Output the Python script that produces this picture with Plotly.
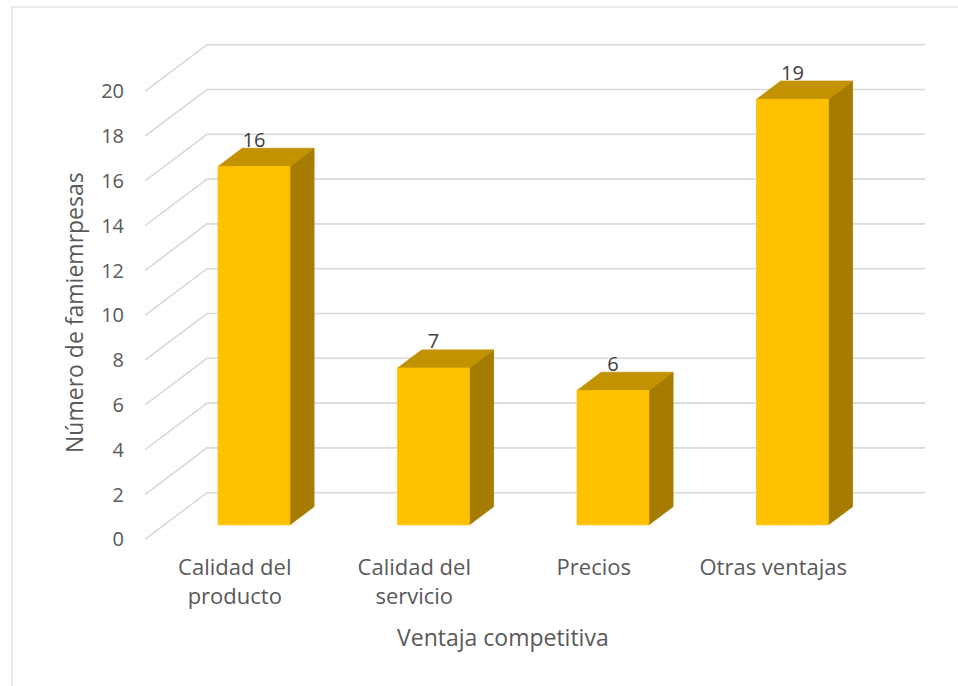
import plotly.graph_objects as go

# Data
categories = ["Calidad del<br>producto", "Calidad del<br>servicio", "Precios", "Otras ventajas"]
values = [16, 7, 6, 19]
y_ticks = [0, 2, 4, 6, 8, 10, 12, 14, 16, 18, 20]
y_tick_labels = [str(t) for t in y_ticks]

# Oblique projection of the depth axis (in axis units)
DX = 62 / 179.5      # horizontal shift of the back wall, in category units
DY = 46.6 / 22.4     # vertical shift of the back wall, in value units
D0, D1 = 0.31, 0.70  # depth span of the bar boxes
HALF_W = 0.2         # half bar width, in category units

FRONT = "#FFC000"
TOP = "#C29200"
SIDE = "#A57C00"
GRID = "#D9D9D9"
FONT = "Open Sans"

fig = go.Figure()

# Wall gridlines: diagonal on the side, horizontal along the back wall
gx, gy = [], []
for t in y_ticks:
    gx += [0, DX, len(categories) + DX, None]
    gy += [t, t + DY, t + DY, None]
fig.add_trace(go.Scatter(x=gx, y=gy, mode="lines",
                         line=dict(color=GRID, width=1.6),
                         hoverinfo="skip", showlegend=False))

def poly(xs, ys, color):
    fig.add_trace(go.Scatter(x=xs + [xs[0]], y=ys + [ys[0]], mode="lines",
                             fill="toself", fillcolor=color,
                             line=dict(color=color, width=0.8),
                             hoverinfo="skip", showlegend=False))

for i, v in enumerate(values):
    c = i + 0.5
    xl, xr = c - HALF_W, c + HALF_W
    # side face
    poly([xr + D0 * DX, xr + D0 * DX, xr + D1 * DX, xr + D1 * DX],
         [D0 * DY, v + D0 * DY, v + D1 * DY, D1 * DY], SIDE)
    # top face
    poly([xl + D0 * DX, xr + D0 * DX, xr + D1 * DX, xl + D1 * DX],
         [v + D0 * DY, v + D0 * DY, v + D1 * DY, v + D1 * DY], TOP)
    # front face
    poly([xl + D0 * DX, xr + D0 * DX, xr + D0 * DX, xl + D0 * DX],
         [D0 * DY, D0 * DY, v + D0 * DY, v + D0 * DY], FRONT)

# Value labels above each bar
fig.add_trace(go.Scatter(
    x=[i + 0.5 + D0 * DX for i in range(len(values))],
    y=[v + D0 * DY + 1.1 for v in values],
    mode="text", text=[str(v) for v in values],
    textfont=dict(family=FONT, size=20, color="#404040"),
    textposition="middle center", hoverinfo="skip", showlegend=False))

W, H = 958, 686
L, B = 145, 138
plot_w = W - L
plot_h = H - B
px_per_cat = 179.5
px_per_val = 22.4
zero_px = 539.3

fig.update_layout(
    width=W, height=H,
    margin=dict(l=L, r=0, t=0, b=B),
    paper_bgcolor="white", plot_bgcolor="white",
    font=dict(family=FONT, color="#595959"),
    xaxis=dict(range=[0, plot_w / px_per_cat],
               tickvals=[i + 0.5 for i in range(len(categories))],
               ticktext=categories, showgrid=False, zeroline=False,
               showline=False, ticks="", ticklabelstandoff=4,
               tickfont=dict(size=22, color="#595959"), automargin=False),
    yaxis=dict(range=[(zero_px - plot_h) / px_per_val, zero_px / px_per_val],
               tickvals=y_ticks, ticktext=y_tick_labels, showgrid=False,
               zeroline=False, showline=False, ticks="", ticklabelstandoff=20,
               tickfont=dict(size=20, color="#595959"), automargin=False),
    annotations=[
        dict(text="Número de famiemrpesas", xref="paper", yref="paper",
             x=(74 - L) / plot_w, y=1 - 313 / plot_h, textangle=-90,
             showarrow=False, xanchor="center", yanchor="middle",
             font=dict(family=FONT, size=23, color="#595959")),
        dict(text="Ventaja competitiva", xref="paper", yref="paper",
             x=(503 - L) / plot_w, y=1 - 637 / plot_h,
             showarrow=False, xanchor="center", yanchor="middle",
             font=dict(family=FONT, size=23, color="#595959")),
    ],
    shapes=[dict(type="rect", xref="paper", yref="paper",
                 x0=(12 - L) / plot_w, x1=(965 - L) / plot_w,
                 y0=1 - 695 / plot_h, y1=1 - 7 / plot_h,
                 line=dict(color=GRID, width=1.2), fillcolor="rgba(0,0,0,0)")],
)

fig.write_html("out.html")
